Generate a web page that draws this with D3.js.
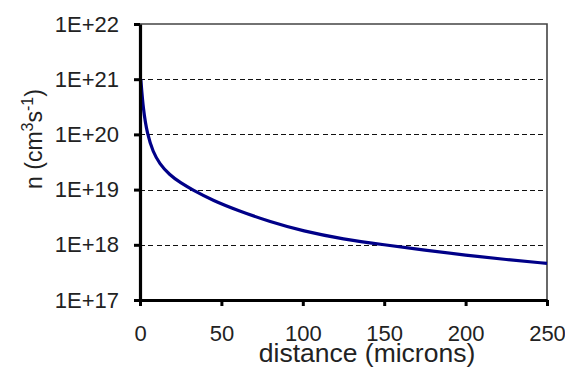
<!DOCTYPE html>
<html>
<head>
<meta charset="utf-8">
<script src="https://cdn.jsdelivr.net/npm/d3@7"></script>
<style>
  html, body { margin: 0; padding: 0; background: #fff; }
  svg { display: block; }
  text { font-family: "Liberation Sans", Arial, sans-serif; fill: #222; }
</style>
</head>
<body>
<svg id="chart" width="565" height="367"></svg>
<script>
// Data
const distance = [0.5, 2, 4.5, 8, 12, 18, 25, 32, 45, 60, 80, 100, 125, 150, 175, 200, 225, 250];
const density  = [1e21, 2.8e20, 1e20, 4.8e19, 2.95e19, 1.86e19, 1.32e19, 1e19, 6.3e18, 4.2e18, 2.6e18, 1.78e18, 1.26e18, 1e18, 8.0e17, 6.5e17, 5.4e17, 4.6e17];
const xTicks = [0, 50, 100, 150, 200, 250];
const yTicks = [1e17, 1e18, 1e19, 1e20, 1e21, 1e22];
const yTickLabels = ["1E+17", "1E+18", "1E+19", "1E+20", "1E+21", "1E+22"];
const xTitle = "distance (microns)";

const svg = d3.select("#chart");
const pLeft = 140, pRight = 547, pTop = 24, pBottom = 300;

const x = d3.scaleLinear().domain([0, 250]).range([pLeft, pRight]);
const y = d3.scaleLog().domain([1e17, 1e22]).range([pBottom, pTop]);

// gridlines (dashed) for inner decades
svg.append("g").selectAll("line")
  .data(yTicks.filter(t => t > 1e17 && t < 1e22))
  .join("line")
  .attr("x1", pLeft).attr("x2", pRight)
  .attr("y1", d => Math.round(y(d)) + 0.5).attr("y2", d => Math.round(y(d)) + 0.5)
  .attr("stroke", "#111").attr("stroke-width", 1)
  .attr("stroke-dasharray", "5,3.3")
  .attr("shape-rendering", "crispEdges");

// top and right border
svg.append("path")
  .attr("d", `M${pLeft},${pTop}H${pRight}V${pBottom}`)
  .attr("fill", "none").attr("stroke", "#444").attr("stroke-width", 1.6);

// curve
const line = d3.line()
  .x((d, i) => x(distance[i]))
  .y((d, i) => y(density[i]))
  .curve(d3.curveBasis);
svg.append("path")
  .datum(density)
  .attr("d", line)
  .attr("fill", "none")
  .attr("stroke", "#000088")
  .attr("stroke-width", 3.2)
  .attr("stroke-linejoin", "round");

// y axis
const yAxis = d3.axisLeft(y)
  .tickValues(yTicks)
  .tickFormat((d, i) => yTickLabels[i])
  .tickSize(6).tickSizeOuter(0).tickPadding(15);
const gy = svg.append("g").attr("transform", `translate(${pLeft},0)`).call(yAxis);
gy.select(".domain").attr("stroke", "#000").attr("stroke-width", 3.2);
gy.selectAll(".tick line").attr("stroke", "#000").attr("stroke-width", 3);
gy.selectAll(".tick text").attr("font-size", 22).attr("fill", "#222")
  .style("font-family", '"Liberation Sans", Arial, sans-serif');

// x axis
const xAxis = d3.axisBottom(x)
  .tickValues(xTicks)
  .tickFormat(d3.format("d"))
  .tickSize(6).tickSizeOuter(0).tickPadding(19);
const gx = svg.append("g").attr("transform", `translate(0,${pBottom})`).call(xAxis);
gx.select(".domain").attr("stroke", "#000").attr("stroke-width", 3.2);
gx.selectAll(".tick line").attr("stroke", "#000").attr("stroke-width", 3);
gx.selectAll(".tick text").attr("font-size", 22).attr("fill", "#222")
  .style("font-family", '"Liberation Sans", Arial, sans-serif');

// x title
svg.append("text")
  .attr("x", 367).attr("y", 362)
  .attr("text-anchor", "middle")
  .attr("font-size", 26.5)
  .text(xTitle);

// y title
const yt = svg.append("text")
  .attr("transform", "translate(42,139) rotate(-90)")
  .attr("text-anchor", "middle")
  .attr("font-size", 23);
yt.append("tspan").text("n (cm");
yt.append("tspan").attr("font-size", 16).attr("dy", -9).text("3");
yt.append("tspan").attr("dy", 9).text("s");
yt.append("tspan").attr("font-size", 16).attr("dy", -9).text("-1");
yt.append("tspan").attr("dy", 9).text(")");
</script>
</body>
</html>
